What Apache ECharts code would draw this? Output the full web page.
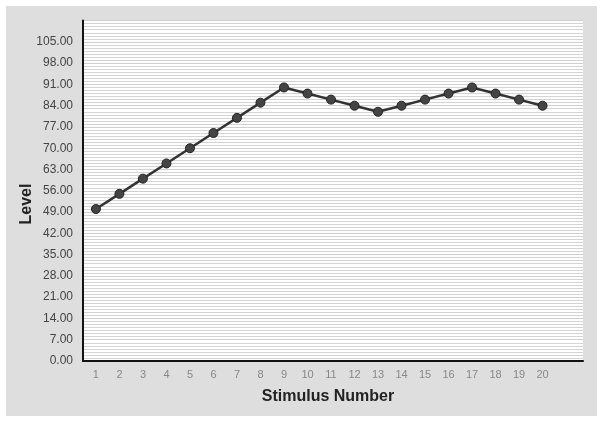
<!DOCTYPE html>
<html><head><meta charset="utf-8">
<script src="https://cdn.jsdelivr.net/npm/echarts@6/dist/echarts.min.js"></script>
<style>html,body{margin:0;padding:0;background:#fff}#c{width:604px;height:423px}</style>
</head><body><div id="c"></div>
<script>
const stimulus = [1,2,3,4,5,6,7,8,9,10,11,12,13,14,15,16,17,18,19,20];
const level = [50,55,60,65,70,75,80,85,90,88,86,84,82,84,86,88,90,88,86,84];
const yTicks = [0,7,14,21,28,35,42,49,56,63,70,77,84,91,98,105];

const chart = echarts.init(document.getElementById('c'), null, {renderer:'canvas'});
chart.setOption({
  animation:false,
  backgroundColor:'#fff',
  graphic:[
    {type:'rect', z:-10, shape:{x:6,y:6,width:591,height:410}, style:{fill:'#dedede'}},
    {type:'text', x:27, y:204, rotation:Math.PI/2, z:10,
      style:{text:'Level', font:'bold 16px "Liberation Sans", Arial', fill:'#222', align:'center', verticalAlign:'middle'}},
    {type:'text', x:328, y:397, z:10,
      style:{text:'Stimulus Number', font:'bold 16px "Liberation Sans", Arial', fill:'#222', align:'center', verticalAlign:'middle'}}
  ],
  grid:{left:83,right:21,top:20.6,bottom:62,show:true,backgroundColor:'#fff',borderWidth:0},
  xAxis:{type:'value',min:0.45,max:21.72,
    axisLine:{show:true,lineStyle:{color:'#111',width:2}},
    axisTick:{show:false},
    splitLine:{show:false},
    axisLabel:{customValues:stimulus,color:'#888',fontFamily:'Liberation Sans, Arial',fontSize:11,margin:8}},
  yAxis:{type:'value',min:0,max:112,interval:7,
    axisLine:{show:true,lineStyle:{color:'#111',width:2}},
    axisTick:{show:false},
    splitLine:{show:true,lineStyle:{color:'#cfcfcf',width:1}},
    minorTick:{show:false,splitNumber:7},
    minorSplitLine:{show:true,lineStyle:{color:'#d4d4d4',width:1}},
    axisLabel:{color:'#444',fontFamily:'Liberation Sans, Arial',fontSize:12,margin:10,
      formatter:v=>yTicks.includes(v)?v.toFixed(2):''}},
  series:[{type:'line',data:stimulus.map((s,i)=>[s,level[i]]),
    symbol:'circle',symbolSize:9,
    lineStyle:{color:'#333',width:2.5},
    itemStyle:{color:'#444',borderColor:'#222',borderWidth:1}}]
});
</script></body></html>
